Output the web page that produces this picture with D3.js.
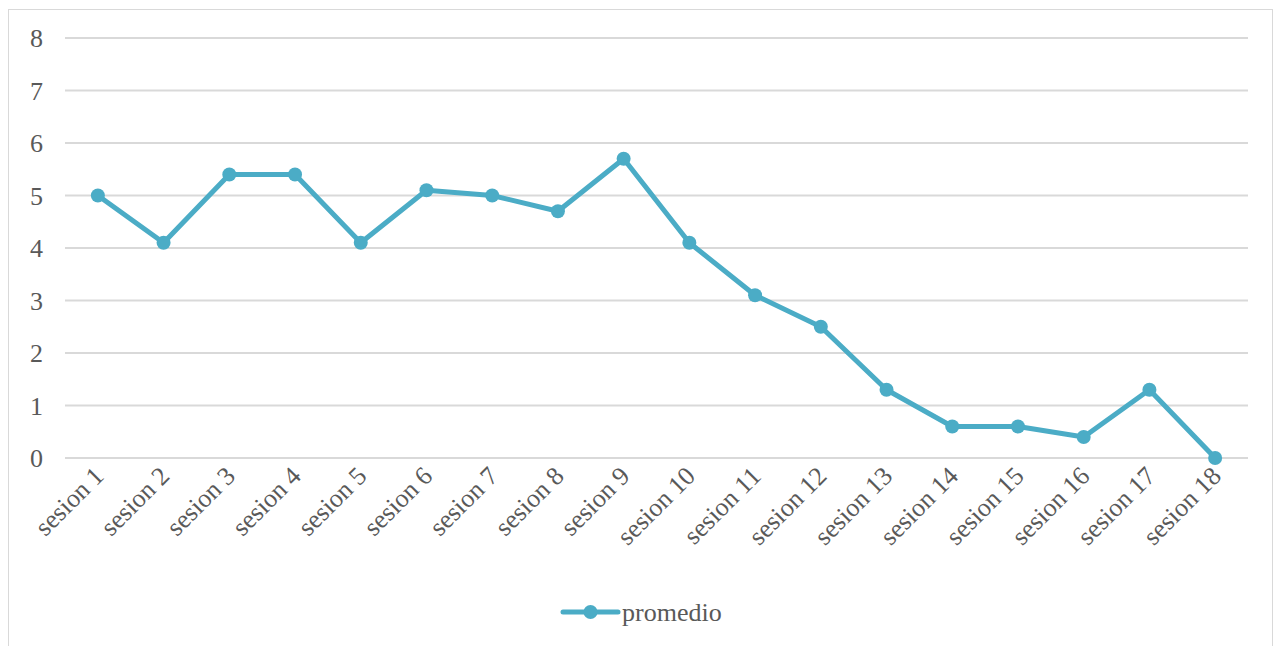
<!DOCTYPE html>
<html>
<head>
<meta charset="utf-8">
<script src="https://cdn.jsdelivr.net/npm/d3@7"></script>
<style>
  body { margin: 0; background: #fff; }
  text { font-family: "Liberation Serif", "Times New Roman", serif; fill: #595959; }
</style>
</head>
<body>
<script>
// Data
var sesiones = ["sesion 1", "sesion 2", "sesion 3", "sesion 4", "sesion 5", "sesion 6",
                "sesion 7", "sesion 8", "sesion 9", "sesion 10", "sesion 11", "sesion 12",
                "sesion 13", "sesion 14", "sesion 15", "sesion 16", "sesion 17", "sesion 18"];
var promedio = [5, 4.1, 5.4, 5.4, 4.1, 5.1, 5.0, 4.7, 5.7, 4.1, 3.1, 2.5, 1.3, 0.6, 0.6, 0.4, 1.3, 0];
var yTicks = [0, 1, 2, 3, 4, 5, 6, 7, 8];
var serieNombre = "promedio";

var W = 1277, H = 646;
var margin = {left: 65, right: 29, top: 38, bottom: 188},
    width = W - margin.left - margin.right,
    height = H - margin.top - margin.bottom;

var color = "#4bacc6";
var fontSize = "26px";

var root = d3.select("body").append("svg")
    .attr("width", W)
    .attr("height", H);

// outer chart border
root.append("rect")
    .attr("x", 8.5).attr("y", 9.5)
    .attr("width", 1264).attr("height", 660)
    .attr("fill", "none")
    .attr("stroke", "#d9d9d9")
    .attr("stroke-width", 1);

var svg = root.append("g")
    .attr("transform", "translate(" + margin.left + "," + margin.top + ")");

var x = d3.scaleBand()
    .domain(sesiones)
    .range([0, width]);

var y = d3.scaleLinear()
    .domain([0, 8])
    .range([height, 0]);

// gridlines
svg.append("g")
    .selectAll("line")
    .data(yTicks)
    .join("line")
        .attr("x1", 0)
        .attr("x2", width)
        .attr("y1", function(d) { return y(d); })
        .attr("y2", function(d) { return y(d); })
        .attr("stroke", "#d9d9d9")
        .attr("stroke-width", 2);

// y labels
svg.append("g")
    .selectAll("text")
    .data(yTicks)
    .join("text")
        .attr("x", -22)
        .attr("y", function(d) { return y(d); })
        .attr("dy", "0.35em")
        .attr("text-anchor", "end")
        .style("font-size", fontSize)
        .text(function(d) { return d; });

// x labels
svg.append("g")
    .selectAll("text")
    .data(sesiones)
    .join("text")
        .attr("transform", function(d) {
            return "translate(" + (x(d) + x.bandwidth() / 2 + 1) + "," + (height + 13) + ") rotate(-45)";
        })
        .attr("text-anchor", "end")
        .attr("dy", "0.35em")
        .style("font-size", fontSize)
        .text(function(d) { return d; });

var cx = function(d, i) { return x(sesiones[i]) + x.bandwidth() / 2; };

// line
svg.append("path")
    .datum(promedio)
    .attr("fill", "none")
    .attr("stroke", color)
    .attr("stroke-width", 5)
    .attr("stroke-linejoin", "round")
    .attr("d", d3.line()
        .x(cx)
        .y(function(d) { return y(d); }));

// markers
svg.selectAll("circle.pt")
    .data(promedio)
    .join("circle")
        .attr("class", "pt")
        .attr("cx", cx)
        .attr("cy", function(d) { return y(d); })
        .attr("r", 7)
        .attr("fill", color);

// legend
var lg = root.append("g").attr("transform", "translate(563,612)");
lg.append("line")
    .attr("x1", 0).attr("x2", 55)
    .attr("y1", 0).attr("y2", 0)
    .attr("stroke", color)
    .attr("stroke-width", 5)
    .attr("stroke-linecap", "round");
lg.append("circle")
    .attr("cx", 27.5).attr("cy", 0).attr("r", 7)
    .attr("fill", color);
lg.append("text")
    .attr("x", 59)
    .attr("y", 0)
    .attr("dy", "0.35em")
    .style("font-size", fontSize)
    .text(serieNombre);
</script>
</body>
</html>
